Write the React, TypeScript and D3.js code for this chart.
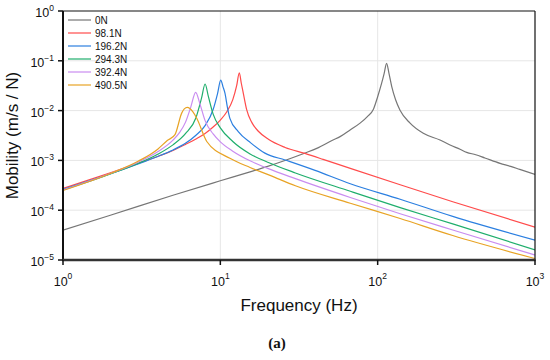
import { curveMonotoneX, line, scaleLog } from "d3";

type Pt = [number, number];

// frequency (Hz), mobility (m/s / N)
const mob0N: Pt[] = [
  [1, 3.98e-5], [2, 7.9e-5], [5, 2.0e-4], [10, 3.9e-4], [15.45, 5.9e-4], [20, 7.6e-4],
  [34.6, 1.41e-3], [41, 1.74e-3], [52, 2.57e-3], [57.7, 3.0e-3], [66.8, 4.1e-3], [77.3, 5.6e-3],
  [86, 7.6e-3], [94, 0.0107], [100, 0.019], [106, 0.0355], [110, 0.056], [114, 0.089],
  [118, 0.056], [123, 0.03], [130, 0.0165], [138.7, 0.0102], [160.7, 5.6e-3], [195, 3.5e-3],
  [249, 2.57e-3], [288.6, 2.04e-3], [334, 1.67e-3], [368, 1.45e-3], [420, 1.3e-3],
  [480, 1.12e-3], [600, 8.7e-4], [700, 7.6e-4], [800, 6.6e-4], [1000, 5.25e-4]
];

const mob98N: Pt[] = [
  [1, 2.75e-4], [2, 5.62e-4], [3, 8.7e-4], [4, 1.2e-3], [5, 1.58e-3], [6, 2.09e-3],
  [7, 2.69e-3], [8, 3.47e-3], [9, 4.68e-3], [10, 6.46e-3], [11, 9.5e-3], [12, 0.0166],
  [12.7, 0.0316], [13.2, 0.0575], [13.6, 0.035], [14, 0.0222], [14.7, 0.0105], [15.84, 5.8e-3],
  [17.44, 3.85e-3], [20.2, 2.65e-3], [25.8, 1.82e-3], [34.5, 1.38e-3], [45, 1.05e-3], [67, 6.9e-4],
  [139, 3.24e-4], [300, 1.48e-4], [1000, 4.57e-5]
];

const mob196N: Pt[] = [
  [1, 2.63e-4], [2, 5.4e-4], [3, 8.5e-4], [4, 1.2e-3], [5, 1.62e-3], [6, 2.2e-3],
  [7, 3.2e-3], [8, 5.0e-3], [9, 0.0105], [9.6, 0.022], [10.06, 0.0411], [10.4, 0.03],
  [10.7, 0.0224], [11.1, 0.0115], [11.5, 7.0e-3], [13, 3.8e-3], [15.6, 2.25e-3], [19.2, 1.4e-3],
  [25.8, 1.02e-3], [40, 6.3e-4], [67, 3.4e-4], [139, 1.66e-4], [300, 7.5e-5], [1000, 2.5e-5]
];

const mob294N: Pt[] = [
  [1, 2.54e-4], [2, 5.33e-4], [3, 8.7e-4], [4, 1.33e-3], [5, 2.05e-3], [6, 3.43e-3],
  [7, 7.2e-3], [7.6, 0.018], [8, 0.0342], [8.4, 0.019], [9, 8.5e-3], [10, 4.5e-3],
  [12, 2.4e-3], [15.45, 1.35e-3], [20, 9.2e-4], [30, 5.6e-4], [67, 2.4e-4], [139, 1.13e-4],
  [300, 5.3e-5], [1000, 1.6e-5]
];

const mob392N: Pt[] = [
  [1, 2.55e-4], [2, 5.45e-4], [3, 9.2e-4], [4, 1.49e-3], [5, 2.55e-3], [5.5, 3.6e-3],
  [6, 5.8e-3], [6.5, 0.012], [6.97, 0.0233], [7.4, 0.014], [8, 6.3e-3], [9, 3.4e-3],
  [10, 2.36e-3], [12, 1.53e-3], [15.45, 9.8e-4], [20, 6.9e-4], [30, 4.3e-4], [67, 1.8e-4],
  [139, 8.5e-5], [300, 4.0e-5], [1000, 1.26e-5]
];

const mob490N: Pt[] = [
  [1, 2.48e-4], [2, 5.45e-4], [3, 9.6e-4], [4, 1.68e-3], [4.6, 2.5e-3], [5.15, 3.3e-3],
  [5.68, 8.9e-3], [5.9, 0.0108], [6.17, 0.0116], [6.4, 0.011], [6.68, 9.5e-3], [7.08, 7.0e-3],
  [8.2, 2.4e-3], [11.5, 1.1e-3], [15.45, 7.2e-4], [20.7, 5.0e-4], [30, 3.1e-4], [67, 1.38e-4],
  [139, 6.8e-5], [300, 3.1e-5], [1000, 1.07e-5]
];

const series = [mob0N, mob98N, mob196N, mob294N, mob392N, mob490N];
const legendLabels = ["0N", "98.1N", "196.2N", "294.3N", "392.4N", "490.5N"];
const seriesColors = ["#767676", "#ff4b4b", "#2b7fe0", "#1fae6c", "#c98cf0", "#e8a324"];

const xTicks = [1, 10, 100, 1000];
const xTickExp = ["0", "1", "2", "3"];
const yTicks = [1, 0.1, 0.01, 1e-3, 1e-4, 1e-5];
const yTickExp = ["0", "\u22121", "\u22122", "\u22123", "\u22124", "\u22125"];

const font = "'Liberation Sans', Arial, sans-serif";

export default function App() {
  const width = 550;
  const height = 360;
  const margin = { top: 11, right: 15, bottom: 100, left: 63 };
  const innerWidth = width - margin.left - margin.right;
  const innerHeight = height - margin.top - margin.bottom;

  const x = scaleLog().domain([1, 1000]).range([0, innerWidth]);
  const y = scaleLog().domain([1e-5, 1]).range([innerHeight, 0]);
  const path = line<Pt>()
    .x((d) => x(d[0]))
    .y((d) => y(d[1]))
    .curve(curveMonotoneX);

  return (
    <svg
      width={width}
      height={height}
      viewBox={`0 0 ${width} ${height}`}
      style={{ position: "absolute", left: 0, top: 0, background: "#fff" }}
      fontFamily={font}
    >
      <defs>
        <clipPath id="plot-clip">
          <rect x={0} y={0} width={innerWidth} height={innerHeight} />
        </clipPath>
      </defs>
      <g transform={`translate(${margin.left}, ${margin.top})`}>
        {xTicks.slice(1, -1).map((t) => (
          <line key={t} x1={x(t)} x2={x(t)} y1={0} y2={innerHeight} stroke="#e6e6e6" strokeWidth={1} />
        ))}
        {yTicks.slice(1, -1).map((t) => (
          <line key={t} x1={0} x2={innerWidth} y1={y(t)} y2={y(t)} stroke="#e6e6e6" strokeWidth={1} />
        ))}

        <g clipPath="url(#plot-clip)">
          {series.map((s, i) => (
            <path key={legendLabels[i]} d={path(s) ?? ""} fill="none" stroke={seriesColors[i]} strokeWidth={1.2} strokeLinejoin="round" />
          ))}
        </g>

        {/* frame */}
        <line x1={0} x2={innerWidth} y1={0} y2={0} stroke="#111" strokeWidth={1.2} />
        <line x1={innerWidth} x2={innerWidth} y1={0} y2={innerHeight} stroke="#111" strokeWidth={1.2} />
        <line x1={0} x2={0} y1={0} y2={innerHeight} stroke="#111" strokeWidth={2} />
        <line x1={-1} x2={innerWidth + 0.6} y1={innerHeight} y2={innerHeight} stroke="#333" strokeWidth={2.4} />

        {yTicks.map((t, i) => (
          <g key={t}>
            <line x1={-5} x2={0} y1={y(t)} y2={y(t)} stroke="#111" strokeWidth={1.5} />
            <text x={-9} y={y(t) + 6} textAnchor="end" fontSize={12.5} fill="#111">
              10<tspan dy={-6} fontSize={8.5}>{yTickExp[i]}</tspan>
            </text>
          </g>
        ))}
        {xTicks.map((t, i) => (
          <g key={t}>
            <line x1={x(t)} x2={x(t)} y1={innerHeight} y2={innerHeight + 5} stroke="#111" strokeWidth={1.5} />
            <text x={x(t)} y={innerHeight + 26} textAnchor="middle" fontSize={12.5} fill="#111">
              10<tspan dy={-7} fontSize={8.5}>{xTickExp[i]}</tspan>
            </text>
          </g>
        ))}

        {legendLabels.map((label, i) => (
          <g key={label} transform={`translate(5, ${9 + i * 13})`}>
            <line x1={0} x2={23} y1={0} y2={0} stroke={seriesColors[i]} strokeWidth={1.2} />
            <text x={27} y={3.5} fontSize={10} fill="#111">{label}</text>
          </g>
        ))}

        <text x={innerWidth / 2} y={innerHeight + 51} textAnchor="middle" fontSize={17} fill="#111">
          Frequency (Hz)
        </text>
        <text
          transform={`translate(${-45}, ${innerHeight / 2}) rotate(-90)`}
          textAnchor="middle"
          fontSize={17}
          fill="#111"
        >
          Mobility (m/s / N)
        </text>
      </g>
      <text x={277} y={348} textAnchor="middle" fontSize={15} fontWeight="bold" fontFamily="'Liberation Serif', 'Times New Roman', serif" fill="#111">
        (a)
      </text>
    </svg>
  );
}
